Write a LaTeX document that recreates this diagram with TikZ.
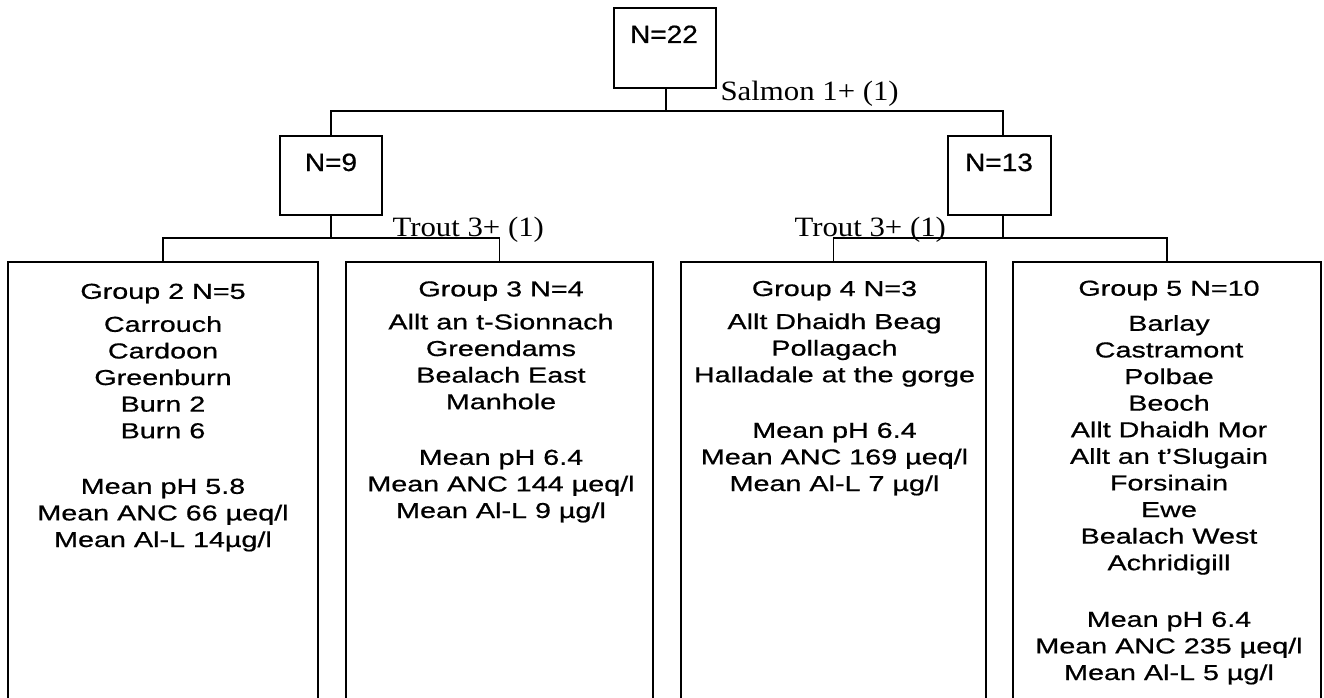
\documentclass[tikz,border=0pt]{standalone}
\usepackage{fontspec}
\newfontfamily\grpfont[FakeStretch=1.33,FakeBold=0.7]{Liberation Sans}
\newfontfamily\nfont[FakeStretch=1.12,FakeBold=0.7]{Liberation Sans}
\newfontfamily\splitfont[FakeStretch=1.1]{Liberation Serif}
\begin{document}
\begin{tikzpicture}[x=1pt,y=-1pt,line width=1.1pt,
  nbox/.style={draw,rectangle,minimum width=102pt,minimum height=80pt,inner sep=0pt,outer sep=0pt},
  gbox/.style={draw,rectangle,minimum height=458pt,inner sep=0pt,outer sep=0pt},
  nlabel/.style={font=\nfont\fontsize{25}{30}\selectfont,anchor=base,inner sep=0pt},
  glines/.style={font=\grpfont\fontsize{21.6}{26.6}\selectfont,align=center,anchor=base,inner sep=0pt},
  splitlabel/.style={font=\splitfont\fontsize{28}{32}\selectfont,anchor=base west,inner sep=0pt}]
\clip (0,0) rectangle (1324,698);
% split boxes
\node[nbox] (n22) at (665,48) {};
\node[nlabel] (l22) at (664,43) {N=22};
\node[nbox,minimum height=79pt] (n9) at (331,175.5) {};
\node[nlabel] (l9) at (331,171) {N=9};
\node[nbox,minimum width=103pt,minimum height=79pt] (n13) at (999.5,175.5) {};
\node[nlabel] (l13) at (999,171) {N=13};
% group boxes
\node[gbox,minimum width=310pt] (g2) at (163,491) {};
\node[gbox,minimum width=307pt] (g3) at (499.5,491) {};
\node[gbox,minimum width=305pt] (g4) at (833.5,491) {};
\node[gbox,minimum width=308pt] (g5) at (1167,491) {};
% connectors
\coordinate (j0) at (666,111);
\coordinate (t13) at (1003,136);
\coordinate (j9) at (331,238);
\coordinate (j13) at (1003,238);
\draw (j0 |- n22.south) -- (j0);
\draw (n9.north) |- (j0) -| (t13);
\draw (n9.south) -- (j9);
\draw (g2.north) |- (j9) -| (g3.north);
\draw (t13 |- n13.south) -- (j13);
\draw (g4.north) |- (j13) -| (g5.north);
% split labels
\node[splitlabel] (s1) at (720,101) {Salmon 1+ (1)};
\node[splitlabel] (s2) at (392,236) {Trout 3+ (1)};
\node[splitlabel] (s3) at (794,236) {Trout 3+ (1)};
% group texts (anchor base = last line baseline)
\node[glines] (t2) at (163,547) {Group 2 N=5\\[6.4pt]Carrouch\\Cardoon\\Greenburn\\Burn 2\\Burn 6\\[29pt]Mean pH 5.8\\Mean ANC 66 µeq/l\\Mean Al-L 14µg/l};
\node[glines] (t3) at (501,518) {Group 3 N=4\\[6.4pt]Allt an t-Sionnach\\Greendams\\Bealach East\\Manhole\\[29pt]Mean pH 6.4\\Mean ANC 144 µeq/l\\Mean Al-L 9 µg/l};
\node[glines] (t4) at (834.5,491) {Group 4 N=3\\[6.4pt]Allt Dhaidh Beag\\Pollagach\\Halladale at the gorge\\[29pt]Mean pH 6.4\\Mean ANC 169 µeq/l\\Mean Al-L 7 µg/l};
\node[glines] (t5) at (1169,680) {Group 5 N=10\\[8.5pt]Barlay\\Castramont\\Polbae\\Beoch\\Allt Dhaidh Mor\\Allt an t’Slugain\\Forsinain\\Ewe\\Bealach West\\Achridigill\\[30pt]Mean pH 6.4\\Mean ANC 235 µeq/l\\Mean Al-L 5 µg/l};
\end{tikzpicture}
\end{document}
